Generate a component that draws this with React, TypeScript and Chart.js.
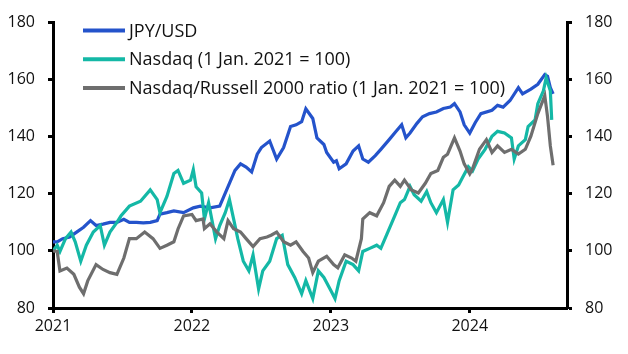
import React, { useEffect, useRef } from "react";
import { Chart, registerables } from "chart.js";

Chart.register(...registerables);

const X_MIN = 2021;
const X_MAX = 2024.7;
const yearTicks = [2021, 2022, 2023, 2024];
const Y_MIN = 80;
const Y_MAX = 180;
const Y_STEP = 20;

const seriesNames = [
  "JPY/USD",
  "Nasdaq (1 Jan. 2021 = 100)",
  "Nasdaq/Russell 2000 ratio (1 Jan. 2021 = 100)",
];

// dates are fractional years
const jpyDates = [
  2021.0, 2021.03, 2021.07, 2021.12, 2021.17, 2021.22, 2021.27, 2021.31, 2021.36, 2021.41,
  2021.46, 2021.51, 2021.55, 2021.6, 2021.65, 2021.7, 2021.75, 2021.77, 2021.82, 2021.87,
  2021.94, 2022.01, 2022.06, 2022.13, 2022.2, 2022.23, 2022.27, 2022.31, 2022.35, 2022.39,
  2022.43, 2022.47, 2022.5, 2022.56, 2022.61, 2022.66, 2022.71, 2022.75, 2022.79, 2022.82,
  2022.87, 2022.9, 2022.95, 2022.97, 2023.02, 2023.04, 2023.06, 2023.11, 2023.16, 2023.2,
  2023.23, 2023.27, 2023.32, 2023.36, 2023.42, 2023.47, 2023.51, 2023.54, 2023.57, 2023.62,
  2023.66, 2023.71, 2023.76, 2023.81, 2023.86, 2023.89, 2023.93, 2023.96, 2024.0, 2024.04,
  2024.08, 2024.16, 2024.2, 2024.24, 2024.29, 2024.35, 2024.38, 2024.44, 2024.49, 2024.54,
  2024.56, 2024.58, 2024.6,
];
const jpyValues = [
  103.2, 103.2, 104.3, 104.9, 106.6, 108.3, 110.6, 108.9, 109.4, 110.0,
  110.0, 111.1, 110.0, 110.0, 109.8, 110.0, 110.6, 112.9, 113.4, 114.0,
  113.4, 115.1, 115.7, 115.1, 115.7, 119.1, 123.7, 128.2, 130.5, 129.4,
  127.7, 133.9, 136.2, 138.5, 132.2, 136.2, 143.6, 144.2, 145.3, 149.8,
  146.4, 139.6, 137.3, 134.5, 131.1, 131.6, 128.8, 130.5, 135.0, 136.8,
  132.2, 131.1, 133.4, 135.6, 139.0, 141.9, 144.2, 139.6, 141.3, 144.7,
  147.0, 148.1, 148.7, 149.9, 150.4, 151.6, 148.7, 144.2, 141.3, 145.0,
  148.1, 149.3, 151.0, 150.4, 152.7, 157.2, 155.0, 156.7, 158.4, 161.8,
  161.2, 157.2, 155.0,
];

const nasdaqDates = [
  2021.0, 2021.03, 2021.05, 2021.09, 2021.13, 2021.16, 2021.2, 2021.24, 2021.29, 2021.34,
  2021.37, 2021.41, 2021.46, 2021.49, 2021.55, 2021.63, 2021.7, 2021.75, 2021.77, 2021.82,
  2021.87, 2021.9, 2021.94, 2021.99, 2022.01, 2022.03, 2022.07, 2022.09, 2022.12, 2022.17,
  2022.2, 2022.24, 2022.27, 2022.3, 2022.33, 2022.37, 2022.41, 2022.44, 2022.48, 2022.51,
  2022.56, 2022.61, 2022.65, 2022.69, 2022.74, 2022.79, 2022.82, 2022.87, 2022.91, 2022.95,
  2023.0, 2023.03, 2023.06, 2023.11, 2023.16, 2023.2, 2023.23, 2023.28, 2023.33, 2023.36,
  2023.41, 2023.46, 2023.5, 2023.53, 2023.57, 2023.6, 2023.65, 2023.69, 2023.72, 2023.76,
  2023.81, 2023.84, 2023.88, 2023.92, 2023.95, 2023.99, 2024.02, 2024.06, 2024.11, 2024.16,
  2024.2, 2024.25, 2024.3, 2024.32, 2024.35, 2024.4, 2024.42, 2024.47, 2024.49, 2024.53,
  2024.55, 2024.58, 2024.59,
];
const nasdaqValues = [
  100.0, 102.0, 99.8, 104.3, 106.6, 103.2, 96.4, 102.0, 106.6, 108.9,
  102.0, 106.6, 110.0, 112.3, 115.7, 117.4, 121.4, 118.0, 113.4, 119.1,
  127.1, 128.2, 123.7, 124.8, 128.5, 122.5, 120.3, 111.2, 116.9, 104.3,
  108.9, 113.4, 118.0, 111.2, 104.3, 96.4, 93.0, 98.6, 86.7, 93.0,
  96.4, 104.3, 105.5, 95.2, 90.7, 85.0, 89.6, 83.3, 93.0, 90.7,
  86.1, 83.3, 89.6, 96.4, 95.2, 93.0, 99.8, 100.9, 102.0, 100.9,
  106.6, 112.3, 116.9, 118.0, 122.6, 119.7, 117.4, 120.8, 116.9, 113.4,
  118.0, 110.0, 121.4, 123.1, 125.9, 129.5, 128.0, 132.2, 135.6, 140.2,
  141.9, 141.3, 139.6, 132.2, 136.8, 139.0, 143.6, 145.9, 151.6, 156.1,
  160.7, 156.1, 145.9,
];

const ratioDates = [
  2021.0, 2021.03, 2021.05, 2021.1, 2021.15, 2021.19, 2021.22, 2021.25, 2021.31, 2021.36,
  2021.41, 2021.46, 2021.51, 2021.55, 2021.6, 2021.66, 2021.72, 2021.77, 2021.82, 2021.87,
  2021.9, 2021.94, 2022.0, 2022.03, 2022.08, 2022.09, 2022.13, 2022.18, 2022.23, 2022.26,
  2022.3, 2022.35, 2022.39, 2022.44, 2022.49, 2022.54, 2022.57, 2022.61, 2022.66, 2022.71,
  2022.75, 2022.8, 2022.84, 2022.87, 2022.91, 2022.97, 2023.02, 2023.05, 2023.1, 2023.15,
  2023.18, 2023.22, 2023.23, 2023.28, 2023.33, 2023.38, 2023.42, 2023.46, 2023.5, 2023.53,
  2023.58, 2023.63, 2023.68, 2023.72, 2023.77, 2023.81, 2023.84, 2023.89, 2023.93, 2023.96,
  2024.0, 2024.02, 2024.07, 2024.12, 2024.16, 2024.2, 2024.25, 2024.3, 2024.35, 2024.4,
  2024.44, 2024.49, 2024.54, 2024.56, 2024.58, 2024.6,
];
const ratioValues = [
  100.0, 99.8, 93.0, 94.0, 91.8, 87.3, 85.0, 89.5, 95.2, 93.5,
  92.4, 91.8, 97.5, 104.3, 104.3, 106.6, 104.3, 100.9, 102.0, 103.2,
  107.7, 112.3, 112.8, 110.6, 111.2, 107.8, 109.5, 106.6, 104.3, 110.6,
  107.8, 106.6, 104.3, 101.5, 104.3, 104.9, 105.5, 106.6, 103.2, 102.0,
  103.2, 99.8, 97.5, 92.4, 96.4, 98.1, 95.2, 94.1, 98.6, 97.5,
  96.4, 104.3, 111.2, 113.4, 112.3, 116.9, 122.6, 124.8, 122.6, 124.8,
  121.4, 120.3, 123.7, 127.1, 128.2, 132.8, 133.9, 139.6, 135.0, 130.5,
  127.0, 128.8, 135.6, 139.0, 134.5, 136.8, 134.5, 135.6, 133.9, 135.6,
  140.2, 148.1, 154.4, 147.0, 136.8, 130.0,
];

const colors = ["#2453cb", "#14b8a6", "#6e6e6e"];

const FONT = '"Open Sans", "DejaVu Sans", sans-serif';
const TEXT_COLOR = "#111111";

const insideLegend = {
  id: "insideLegend",
  afterDatasetsDraw(chart: any) {
    const { ctx, chartArea } = chart;
    ctx.save();
    chart.data.datasets.forEach((ds: any, i: number) => {
      const y = chartArea.top + 8 + i * 28.7;
      const x0 = chartArea.left + 30;
      ctx.strokeStyle = ds.borderColor;
      ctx.lineWidth = 4;
      ctx.beginPath();
      ctx.moveTo(x0, y);
      ctx.lineTo(x0 + 42, y);
      ctx.stroke();
      ctx.fillStyle = TEXT_COLOR;
      ctx.font = `18px ${FONT}`;
      ctx.textBaseline = "middle";
      ctx.textAlign = "left";
      ctx.fillText(ds.label, x0 + 46, y + 1);
    });
    ctx.restore();
  },
};

export default function App() {
  const canvasRef = useRef<HTMLCanvasElement | null>(null);

  useEffect(() => {
    if (!canvasRef.current) return;
    const mk = (xs: number[], ys: number[]) => ys.map((v, i) => ({ x: xs[i], y: v }));

    const axisCommon = {
      border: { display: true, color: "#000", width: 3 },
      grid: {
        display: true,
        drawOnChartArea: false,
        drawTicks: true,
        tickLength: 5,
        tickWidth: 3,
        tickColor: "#000",
      },
    };

    const chart = new Chart(canvasRef.current, {
      type: "line",
      data: {
        datasets: [
          { label: seriesNames[0], data: mk(jpyDates, jpyValues), borderColor: colors[0], order: 3 },
          { label: seriesNames[1], data: mk(nasdaqDates, nasdaqValues), borderColor: colors[1], order: 2 },
          { label: seriesNames[2], data: mk(ratioDates, ratioValues), borderColor: colors[2], order: 1 },
        ].map((d) => ({
          ...d,
          borderWidth: 3.2,
          pointRadius: 0,
          tension: 0,
          fill: false,
          yAxisID: "y",
        })),
      },
      options: {
        responsive: false,
        animation: false,
        layout: { padding: { top: 15, left: 0, right: 0, bottom: 0 } },
        plugins: { legend: { display: false }, tooltip: { enabled: false } },
        scales: {
          x: {
            type: "linear",
            position: "bottom",
            min: X_MIN,
            max: X_MAX,
            ...axisCommon,
            ticks: {
              color: TEXT_COLOR,
              font: { family: FONT, size: 16 },
              padding: 4,
              maxRotation: 0,
              callback: (v: any) => String(v),
            },
            afterBuildTicks: (s: any) => {
              s.ticks = yearTicks.map((v) => ({ value: v }));
            },
            afterFit: (s: any) => {
              s.height = 46;
            },
          },
          y: {
            type: "linear",
            position: "left",
            min: Y_MIN,
            max: Y_MAX,
            ...axisCommon,
            ticks: {
              stepSize: Y_STEP,
              color: TEXT_COLOR,
              font: { family: FONT, size: 16 },
              padding: 13,
            },
            afterFit: (s: any) => {
              s.width = 53;
            },
          },
          y2: {
            type: "linear",
            position: "right",
            min: Y_MIN,
            max: Y_MAX,
            ...axisCommon,
            ticks: {
              stepSize: Y_STEP,
              color: TEXT_COLOR,
              font: { family: FONT, size: 16 },
              padding: 13,
            },
            afterFit: (s: any) => {
              s.width = 61;
            },
          },
        },
      } as any,
      plugins: [insideLegend],
    });
    return () => chart.destroy();
  }, []);

  return (
    <div style={{ position: "absolute", left: 0, top: 0, width: 628, height: 354, background: "#fff" }}>
      <canvas ref={canvasRef} width={628} height={354} style={{ display: "block" }} />
    </div>
  );
}
